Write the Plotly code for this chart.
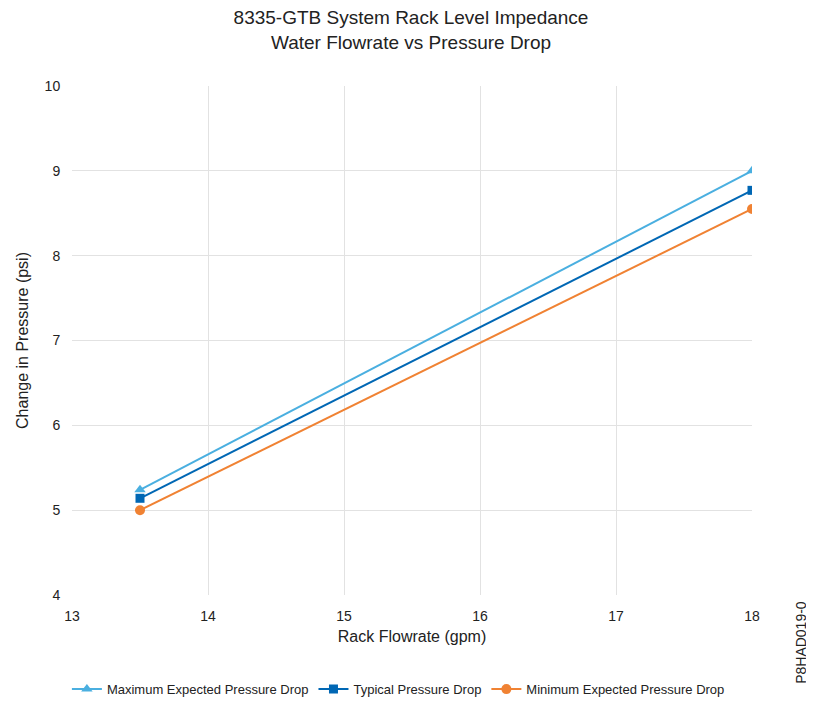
import plotly.graph_objects as go

flow = [13.5, 18]
max_drop = [5.24, 9.0]
typ_drop = [5.14, 8.77]
min_drop = [5.0, 8.55]

W, H = 806, 693

fig = go.Figure()
fig.add_trace(go.Scatter(x=flow, y=max_drop, mode="lines+markers", name="Maximum Expected Pressure Drop",
                         line=dict(color="#4aafe0", width=2), marker=dict(symbol="triangle-up", size=10, color="#4aafe0")))
fig.add_trace(go.Scatter(x=flow, y=typ_drop, mode="lines+markers", name="Typical Pressure Drop",
                         line=dict(color="#0067b4", width=2), marker=dict(symbol="square", size=9, color="#0067b4")))
fig.add_trace(go.Scatter(x=flow, y=min_drop, mode="lines+markers", name="Minimum Expected Pressure Drop",
                         line=dict(color="#f08233", width=2), marker=dict(symbol="circle", size=10, color="#f08233")))

fig.update_layout(
    width=W, height=H,
    paper_bgcolor="white", plot_bgcolor="white",
    font=dict(family="Liberation Sans, Arial, sans-serif", size=13, color="#222"),
    title=dict(text="8335-GTB System Rack Level Impedance<br>Water Flowrate vs Pressure Drop",
               x=0.5, xanchor="center", y=1 - 16 / H, yanchor="middle", font=dict(size=19)),
    margin=dict(l=64, r=62, t=78, b=106, autoexpand=False),
    xaxis=dict(range=[13, 18], dtick=1, showgrid=True, gridcolor="#e2e2e2", zeroline=False,
               showline=False, title=dict(text="Rack Flowrate (gpm)", standoff=8),
               ticks="outside", ticklen=8, tickcolor="rgba(0,0,0,0)", tickfont=dict(size=14)),
    yaxis=dict(range=[4, 10], dtick=1, showgrid=True, gridcolor="#e2e2e2", zeroline=False,
               showline=False, title=dict(text="Change in Pressure (psi)", standoff=12),
               ticks="outside", ticklen=8, tickcolor="rgba(0,0,0,0)", tickfont=dict(size=14)),
    legend=dict(orientation="h", x=0.48, xanchor="center", y=-0.185, yanchor="middle",
                font=dict(size=13), traceorder="normal"),
    showlegend=True,
)
fig.add_annotation(text="P8HAD019-0", xref="paper", yref="paper", x=1.0, y=-0.094,
                   xshift=49, textangle=-90, showarrow=False, yanchor="middle", xanchor="center",
                   font=dict(size=14, color="#222"))

fig.write_html("out.html")
